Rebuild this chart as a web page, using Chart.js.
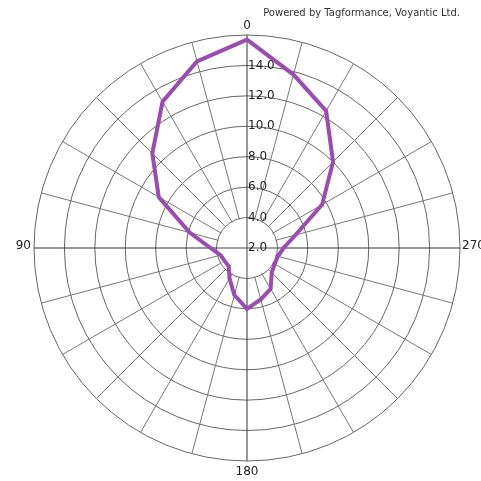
<!DOCTYPE html>
<html>
<head>
<meta charset="utf-8">
<script src="https://cdn.jsdelivr.net/npm/chart.js@4"></script>
<style>
  html, body { margin: 0; padding: 0; background: #fff; }
  #wrap { width: 481px; height: 481px; }
</style>
</head>
<body>
<div id="wrap"><canvas id="polarChart" width="481" height="481"></canvas></div>
<script>
// angles in degrees, counter-clockwise from the top (0 up, 90 left, 180 down, 270 right)
const angles = [0, 15, 30, 45, 60, 75, 90, 105, 120, 135, 150, 165,
                180, 195, 210, 225, 240, 255, 270, 285, 300, 315, 330, 345];
const values = [15.7, 14.7, 13.1, 10.8, 8.7, 5.9, 4.4, 3.8, 3.7, 3.7, 4.3, 5.2,
                6.0, 5.5, 5.1, 4.3, 4.1, 4.1, 4.4, 5.3, 7.7, 10.0, 12.4, 13.8];
const tickValues = [2, 4, 6, 8, 10, 12, 14];
const angleLabels = ['0', '90', '180', '270'];

// radar goes clockwise from the top, so walk the angles backwards
const order = angles.map((a, i) => (angles.length - i) % angles.length);
const radarLabels = order.map(i => String(angles[i]));
const radarValues = order.map(i => values[i]);

// white hub inside the 4.0 ring, tick labels beside the axis, cardinal angle labels
const polarExtras = {
  id: 'polarExtras',
  beforeDatasetsDraw(chart) {
    const r = chart.scales.r;
    const ctx = chart.ctx;
    const cx = r.xCenter, cy = r.yCenter;
    const hub = r.getDistanceFromCenterForValue(4) - 1;
    ctx.save();
    ctx.fillStyle = '#fff';
    ctx.beginPath();
    ctx.arc(cx, cy, hub, 0, Math.PI * 2);
    ctx.fill();
    ctx.strokeStyle = '#444';
    ctx.lineWidth = 1;
    ctx.beginPath();
    ctx.moveTo(cx - hub, cy); ctx.lineTo(cx + hub, cy);
    ctx.moveTo(cx, cy - hub); ctx.lineTo(cx, cy + hub);
    ctx.stroke();

    ctx.font = '12px "DejaVu Sans"';
    ctx.fillStyle = '#222';
    ctx.textAlign = 'left';
    ctx.textBaseline = 'middle';
    r.ticks.forEach(t => {
      if (!tickValues.includes(t.value)) return;
      ctx.fillText(t.value.toFixed(1), cx + 1, cy - r.getDistanceFromCenterForValue(t.value));
    });

    const R = r.drawingArea;
    angleLabels.forEach(lbl => {
      const a = Number(lbl);
      const idx = ((360 - a) % 360) / 15;
      let p;
      if (a === 0) { p = r.getPointPosition(idx, R + 9); ctx.textAlign = 'center'; }
      else if (a === 180) { p = r.getPointPosition(idx, R + 11); ctx.textAlign = 'center'; }
      else if (a === 90) { p = r.getPointPosition(idx, R + 3); ctx.textAlign = 'right'; }
      else { p = r.getPointPosition(idx, R + 2); ctx.textAlign = 'left'; }
      ctx.fillText(lbl, p.x, p.y - (a % 180 === 0 ? 0 : 2));
    });
    ctx.restore();
  }
};

new Chart(document.getElementById('polarChart'), {
  type: 'radar',
  data: {
    labels: radarLabels,
    datasets: [{
      data: radarValues,
      borderColor: '#9a4cb0',
      borderWidth: 4,
      fill: false,
      pointRadius: 0,
      tension: 0
    }]
  },
  options: {
    responsive: false,
    animation: false,
    devicePixelRatio: 1,
    layout: { padding: { left: 34, right: 21, top: 0, bottom: 20 } },
    plugins: {
      legend: { display: false },
      tooltip: { enabled: false },
      title: {
        display: true,
        text: 'Powered by Tagformance, Voyantic Ltd.',
        align: 'end',
        color: '#333',
        font: { family: 'DejaVu Sans', size: 10, weight: 'normal', lineHeight: 1.2 },
        padding: { top: 7, bottom: 16 }
      }
    },
    scales: {
      r: {
        min: 2,
        max: 16,
        ticks: { stepSize: 2, display: false },
        grid: { circular: true, color: '#666', lineWidth: 1 },
        angleLines: {
          color: ctx => (ctx.index % 6 === 0 ? '#333' : '#777'),
          lineWidth: 1
        },
        pointLabels: { display: false }
      }
    }
  },
  plugins: [polarExtras]
});
</script>
</body>
</html>
